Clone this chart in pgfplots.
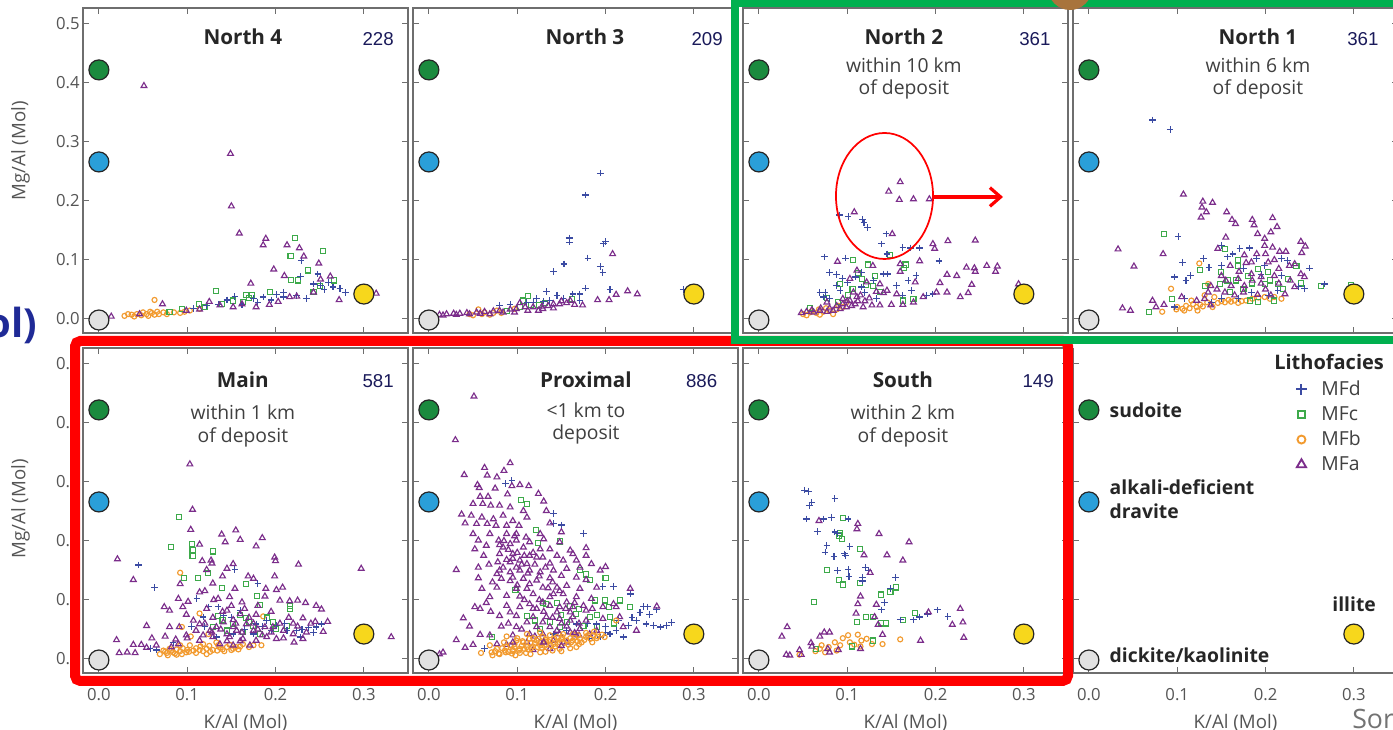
\documentclass[border=0pt]{standalone}
\usepackage{pgfplots}
\pgfplotsset{compat=1.18}
\usepackage{fontspec}
\setmainfont{Open Sans}
\newfontfamily\numfont{Liberation Sans}
\usetikzlibrary{arrows.meta}

\definecolor{mfd}{HTML}{3B4BA3}
\definecolor{mfc}{HTML}{3DAA4A}
\definecolor{mfb}{HTML}{F29A2E}
\definecolor{mfa}{HTML}{7B2D8B}
\definecolor{sud}{HTML}{1B8A3E}
\definecolor{drav}{HTML}{2A9FD9}
\definecolor{kao}{HTML}{E2E2E2}
\definecolor{ill}{HTML}{F7D71C}
\definecolor{framegray}{HTML}{6E6E6E}
\definecolor{tickgray}{HTML}{555555}
\definecolor{navy}{HTML}{1A1A5A}
\definecolor{frgreen}{HTML}{00B04F}
\definecolor{frred}{HTML}{FF0000}
\definecolor{olblue}{HTML}{1F2A96}
\definecolor{blob}{HTML}{A8743C}

\newcommand\tfont{\fontsize{15.5}{18}\selectfont\bfseries}
\newcommand\sfont{\fontsize{14.5}{18}\selectfont}
\newcommand\nfont{\numfont\fontsize{14}{16}\selectfont}
\newcommand\tkfont{\fontsize{12.5}{14}\selectfont}
\newcommand\lbfont{\fontsize{14}{16}\selectfont}

\pgfplotsset{
  panel/.style={scale only axis, width=243.75pt, height=243.75pt,
    xmin=-0.018, xmax=0.350, ymin=-0.024, ymax=0.527,
    xtick={0,0.1,0.2,0.3}, ytick={0,0.1,0.2,0.3,0.4,0.5},
    tick align=inside, major tick length=4.5pt,
    axis line style={draw=framegray, line width=0.9pt},
    every tick/.style={framegray, line width=0.8pt},
    xticklabels={}, yticklabels={}, clip=false,
    /pgf/number format/assume math mode=true,
    xticklabel style={font=\tkfont, text=tickgray, yshift=-8pt},
    yticklabel style={font=\tkfont, text=tickgray, xshift=1pt},
    xlabel style={font=\lbfont, text=tickgray, at={(rel axis cs:0.5,-0.152)}, anchor=center},
    ylabel style={font=\lbfont, text=tickgray, anchor=center},
  },
  MFd/.style={only marks, mark=+, mark size=2.5pt, draw=mfd, line width=0.85pt},
  MFc/.style={only marks, mark=square, mark size=1.9pt, draw=mfc, line width=0.8pt},
  MFb/.style={only marks, mark=o, mark size=1.9pt, draw=mfb, line width=0.85pt},
  MFa/.style={only marks, mark=triangle, mark size=2.5pt, draw=mfa, line width=0.85pt},
  EM/.style={only marks, mark=*, mark size=7.5pt, mark options={draw=black!85, line width=0.9pt, fill=#1}},
}

\newcommand\drawEM{%
  \addplot[EM=sud] coordinates {(0,0.422)};
  \addplot[EM=drav] coordinates {(0,0.266)};
  \addplot[EM=kao] coordinates {(0,-0.002)};
  \addplot[EM=ill] coordinates {(0.3,0.042)};
}

\begin{document}
\begin{tikzpicture}[x=0.75pt,y=0.75pt]
\useasboundingbox (0,0) rectangle (1393,730);
\fill[white] (0,0) rectangle (1393,730);

% ---------------- North 4 ----------------
\begin{axis}[panel, at={(62.25pt,297.75pt)}, yticklabels={0.0,0.1,0.2,0.3,0.4,0.5},
  ylabel={Mg/Al (Mol)}, ylabel style={at={(rel axis cs:-0.192,0.56)}}]
\addplot[MFb] coordinates {(0.063,0.032)(0.029,0.005)(0.037,0.007)(0.043,0.008)(0.048,0.006)(0.054,0.008)(0.060,0.010)(0.063,0.007)(0.068,0.008)(0.073,0.011)(0.077,0.008)(0.092,0.010)(0.097,0.012)(0.103,0.014)(0.050,0.011)(0.056,0.005)(0.033,0.008)(0.114,0.017)(0.040,0.004)(0.058,0.012)(0.066,0.012)(0.085,0.011)};
\addplot[MFc] coordinates {(0.222,0.137)(0.217,0.106)(0.254,0.115)(0.237,0.082)(0.218,0.066)(0.225,0.065)(0.133,0.047)(0.113,0.025)(0.094,0.017)(0.152,0.031)(0.167,0.040)(0.173,0.041)(0.194,0.045)(0.243,0.046)(0.266,0.065)(0.139,0.025)(0.163,0.028)(0.080,0.011)(0.170,0.035)(0.120,0.020)(0.250,0.055)};
\addplot[MFd] coordinates {(0.229,0.099)(0.228,0.072)(0.248,0.076)(0.243,0.059)(0.260,0.062)(0.273,0.051)(0.279,0.045)(0.251,0.056)(0.235,0.035)(0.224,0.040)(0.209,0.045)(0.201,0.041)(0.186,0.037)(0.175,0.034)(0.154,0.038)(0.145,0.032)(0.135,0.025)(0.122,0.023)(0.107,0.017)(0.162,0.024)(0.209,0.037)(0.265,0.054)(0.195,0.032)(0.180,0.028)(0.255,0.050)};
\addplot[MFa] coordinates {(0.051,0.395)(0.149,0.280)(0.150,0.191)(0.159,0.145)(0.189,0.136)(0.186,0.125)(0.213,0.125)(0.227,0.120)(0.232,0.106)(0.249,0.094)(0.198,0.084)(0.210,0.073)(0.172,0.060)(0.262,0.072)(0.251,0.067)(0.272,0.032)(0.314,0.043)(0.072,0.025)(0.014,0.004)(0.125,0.029)(0.193,0.024)(0.203,0.029)(0.046,0.008)(0.099,0.014)(0.114,0.016)(0.137,0.023)(0.152,0.020)(0.162,0.025)(0.178,0.020)(0.216,0.037)(0.224,0.038)(0.243,0.045)};
\drawEM
\node[font=\tfont, text=black!85, anchor=base] at (rel axis cs:0.492,0.889) {North 4};
\node[font=\nfont, text=navy, anchor=base] at (rel axis cs:0.908,0.886) {228};
\end{axis}

% ---------------- North 3 ----------------
\begin{axis}[panel, at={(309.75pt,297.75pt)}]
\addplot[MFb] coordinates {(0.056,0.016)(0.046,0.008)(0.063,0.011)(0.077,0.014)(0.082,0.010)(0.097,0.017)(0.050,0.006)(0.069,0.007)(0.060,0.008)(0.073,0.010)};
\addplot[MFc] coordinates {(0.112,0.038)(0.107,0.031)(0.103,0.020)(0.116,0.023)(0.131,0.027)(0.162,0.034)(0.088,0.014)(0.125,0.024)};
\addplot[MFd] coordinates {(0.194,0.247)(0.177,0.210)(0.159,0.137)(0.159,0.130)(0.200,0.131)(0.198,0.127)(0.180,0.103)(0.153,0.093)(0.141,0.080)(0.194,0.089)(0.197,0.079)(0.177,0.052)(0.205,0.050)(0.133,0.046)(0.145,0.040)(0.163,0.042)(0.171,0.042)(0.288,0.050)(0.171,0.031)(0.122,0.034)(0.080,0.023)(0.092,0.025)(0.111,0.028)(0.137,0.031)(0.152,0.034)(0.118,0.028)(0.130,0.030)};
\addplot[MFa] coordinates {(0.208,0.110)(0.225,0.047)(0.236,0.042)(0.212,0.041)(0.204,0.032)(0.191,0.032)(0.174,0.023)(0.165,0.024)(0.156,0.027)(0.012,0.007)(0.020,0.008)(0.028,0.009)(0.035,0.009)(0.043,0.010)(0.054,0.011)(0.063,0.012)(0.073,0.013)(0.080,0.014)(0.092,0.016)(0.099,0.017)(0.103,0.027)(0.109,0.020)(0.118,0.020)(0.128,0.021)(0.129,0.017)(0.141,0.018)(0.148,0.025)(0.141,0.025)(0.058,0.009)(0.069,0.008)(0.084,0.011)(0.097,0.011)(0.112,0.014)(0.124,0.014)(0.016,0.006)(0.031,0.007)(0.046,0.008)(0.135,0.022)(0.150,0.030)(0.160,0.031)};
\drawEM
\node[font=\tfont, text=black!85, anchor=base] at (rel axis cs:0.529,0.889) {North 3};
\node[font=\nfont, text=navy, anchor=base] at (rel axis cs:0.905,0.886) {209};
\end{axis}

% ---------------- North 2 ----------------
\begin{axis}[panel, at={(557.25pt,297.75pt)}]
\addplot[MFb] coordinates {(0.050,0.008)(0.058,0.011)(0.065,0.010)(0.073,0.012)(0.080,0.014)(0.088,0.016)(0.095,0.020)(0.099,0.028)(0.054,0.006)(0.069,0.007)(0.084,0.008)(0.060,0.013)(0.068,0.016)(0.076,0.018)(0.090,0.022)};
\addplot[MFc] coordinates {(0.148,0.108)(0.107,0.100)(0.124,0.092)(0.166,0.092)(0.164,0.086)(0.112,0.078)(0.131,0.072)(0.117,0.068)(0.092,0.059)(0.121,0.058)(0.129,0.055)(0.077,0.036)(0.090,0.028)(0.163,0.031)(0.175,0.034)(0.058,0.018)(0.106,0.050)(0.137,0.045)(0.101,0.040)};
\addplot[MFd] coordinates {(0.091,0.176)(0.101,0.174)(0.117,0.168)(0.119,0.163)(0.123,0.155)(0.144,0.144)(0.139,0.127)(0.163,0.121)(0.172,0.120)(0.182,0.120)(0.145,0.110)(0.074,0.105)(0.098,0.103)(0.204,0.098)(0.080,0.078)(0.088,0.075)(0.095,0.069)(0.100,0.062)(0.116,0.079)(0.130,0.065)(0.141,0.076)(0.146,0.076)(0.178,0.073)(0.169,0.065)(0.069,0.045)(0.075,0.045)(0.088,0.056)(0.092,0.048)(0.156,0.056)(0.173,0.048)(0.190,0.040)(0.197,0.042)(0.120,0.045)(0.133,0.034)(0.163,0.040)(0.073,0.037)(0.109,0.071)(0.116,0.054)(0.080,0.034)};
\addplot[MFa] coordinates {(0.160,0.232)(0.147,0.216)(0.159,0.202)(0.175,0.203)(0.193,0.203)(0.108,0.181)(0.151,0.144)(0.197,0.127)(0.199,0.119)(0.214,0.132)(0.245,0.133)(0.182,0.098)(0.160,0.093)(0.089,0.097)(0.111,0.082)(0.235,0.087)(0.244,0.086)(0.245,0.080)(0.258,0.090)(0.270,0.089)(0.268,0.080)(0.213,0.075)(0.224,0.073)(0.205,0.061)(0.241,0.058)(0.177,0.062)(0.160,0.080)(0.213,0.045)(0.237,0.044)(0.228,0.037)(0.294,0.059)(0.201,0.045)(0.141,0.044)(0.122,0.062)(0.129,0.090)(0.103,0.068)(0.163,0.024)(0.150,0.024)(0.137,0.023)(0.128,0.023)(0.118,0.020)(0.109,0.025)(0.099,0.020)(0.092,0.017)(0.084,0.014)(0.077,0.012)(0.069,0.014)(0.062,0.011)(0.054,0.012)(0.048,0.010)(0.103,0.031)(0.111,0.037)(0.133,0.046)(0.145,0.048)(0.107,0.045)(0.095,0.034)(0.175,0.028)(0.186,0.037)(0.137,0.059)(0.156,0.042)(0.077,0.028)(0.080,0.018)(0.088,0.022)(0.095,0.025)(0.100,0.030)(0.105,0.022)(0.112,0.030)(0.120,0.030)(0.125,0.035)(0.060,0.015)(0.070,0.018)(0.115,0.040)};
\drawEM
\node[font=\tfont, text=black!85, anchor=base] at (rel axis cs:0.495,0.889) {North 2};
\node[font=\sfont, text=black!75, anchor=base] at (rel axis cs:0.495,0.800) {within 10 km};
\node[font=\sfont, text=black!75, anchor=base] at (rel axis cs:0.495,0.733) {of deposit};
\node[font=\nfont, text=navy, anchor=base] at (rel axis cs:0.898,0.886) {361};
\end{axis}

% ---------------- North 1 ----------------
\begin{axis}[panel, at={(804.75pt,297.75pt)}]
\addplot[MFb] coordinates {(0.125,0.094)(0.093,0.051)(0.083,0.012)(0.135,0.059)(0.099,0.016)(0.106,0.017)(0.114,0.018)(0.122,0.020)(0.129,0.021)(0.138,0.025)(0.146,0.027)(0.154,0.028)(0.161,0.029)(0.169,0.027)(0.178,0.031)(0.199,0.037)(0.210,0.037)(0.218,0.034)(0.131,0.040)(0.142,0.037)(0.116,0.031)(0.108,0.014)(0.123,0.014)(0.110,0.022)(0.118,0.025)(0.126,0.024)(0.134,0.028)(0.150,0.030)(0.158,0.032)(0.165,0.031)(0.173,0.030)(0.185,0.034)(0.192,0.036)(0.205,0.034)(0.140,0.020)(0.100,0.020)};
\addplot[MFc] coordinates {(0.085,0.144)(0.169,0.099)(0.169,0.090)(0.126,0.083)(0.150,0.079)(0.154,0.119)(0.191,0.085)(0.203,0.080)(0.235,0.090)(0.225,0.068)(0.214,0.059)(0.263,0.055)(0.297,0.058)(0.199,0.059)(0.167,0.065)(0.148,0.059)(0.132,0.055)(0.094,0.034)(0.068,0.012)(0.182,0.031)(0.191,0.028)(0.210,0.031)(0.180,0.073)(0.157,0.065)(0.175,0.050)(0.185,0.060)(0.205,0.065)(0.220,0.050)(0.240,0.060)(0.160,0.045)};
\addplot[MFd] coordinates {(0.072,0.337)(0.092,0.321)(0.101,0.140)(0.106,0.096)(0.097,0.071)(0.110,0.065)(0.115,0.073)(0.130,0.102)(0.136,0.087)(0.150,0.090)(0.157,0.105)(0.150,0.124)(0.171,0.119)(0.182,0.120)(0.190,0.102)(0.199,0.090)(0.218,0.102)(0.225,0.099)(0.250,0.086)(0.267,0.059)(0.244,0.051)(0.237,0.055)(0.214,0.048)(0.203,0.040)(0.184,0.045)(0.169,0.034)(0.150,0.034)(0.139,0.028)(0.108,0.035)(0.097,0.020)(0.218,0.073)(0.163,0.110)(0.175,0.085)(0.195,0.075)};
\addplot[MFa] coordinates {(0.107,0.211)(0.129,0.199)(0.140,0.197)(0.128,0.189)(0.133,0.181)(0.127,0.172)(0.156,0.181)(0.162,0.168)(0.166,0.161)(0.185,0.168)(0.187,0.159)(0.208,0.171)(0.213,0.156)(0.206,0.147)(0.191,0.144)(0.199,0.136)(0.155,0.138)(0.240,0.131)(0.245,0.123)(0.199,0.124)(0.208,0.121)(0.216,0.114)(0.223,0.114)(0.241,0.112)(0.033,0.118)(0.084,0.110)(0.051,0.089)(0.146,0.119)(0.176,0.108)(0.184,0.096)(0.203,0.096)(0.227,0.090)(0.233,0.093)(0.240,0.076)(0.244,0.071)(0.233,0.054)(0.210,0.073)(0.195,0.071)(0.176,0.056)(0.169,0.068)(0.161,0.056)(0.154,0.045)(0.138,0.056)(0.135,0.045)(0.131,0.034)(0.122,0.031)(0.105,0.037)(0.072,0.031)(0.085,0.024)(0.038,0.018)(0.047,0.014)(0.076,0.020)(0.138,0.023)(0.191,0.041)(0.206,0.040)(0.222,0.042)(0.184,0.076)(0.150,0.073)(0.160,0.090)(0.170,0.080)(0.178,0.095)(0.190,0.110)(0.200,0.110)(0.210,0.100)(0.215,0.085)(0.195,0.060)(0.185,0.065)(0.175,0.045)(0.165,0.040)(0.155,0.065)(0.145,0.050)(0.200,0.050)(0.215,0.060)(0.228,0.065)};
\drawEM
\node[font=\tfont, text=black!85, anchor=base] at (rel axis cs:0.569,0.889) {North 1};
\node[font=\sfont, text=black!75, anchor=base] at (rel axis cs:0.569,0.800) {within 6 km};
\node[font=\sfont, text=black!75, anchor=base] at (rel axis cs:0.569,0.733) {of deposit};
\node[font=\nfont, text=navy, anchor=base] at (rel axis cs:0.892,0.886) {361};
\end{axis}

% ---------------- Main ----------------
\begin{axis}[panel, at={(62.25pt,42.75pt)}, yticklabels={0.0,0.1,0.2,0.3,0.4,0.5},
  xticklabels={0.0,0.1,0.2,0.3}, xlabel={K/Al (Mol)},
  ylabel={Mg/Al (Mol)}, ylabel style={at={(rel axis cs:-0.192,0.505)}}]
\addplot[MFb] coordinates {(0.092,0.146)(0.114,0.077)(0.094,0.054)(0.104,0.038)(0.186,0.072)(0.184,0.023)(0.124,0.042)(0.069,0.008)(0.077,0.010)(0.084,0.011)(0.092,0.013)(0.099,0.011)(0.107,0.014)(0.114,0.015)(0.122,0.017)(0.129,0.015)(0.137,0.019)(0.145,0.020)(0.152,0.017)(0.160,0.021)(0.092,0.023)(0.080,0.017)(0.103,0.023)(0.118,0.025)(0.133,0.028)(0.073,0.014)(0.088,0.007)(0.122,0.008)(0.175,0.023)(0.075,0.012)(0.082,0.014)(0.088,0.016)(0.095,0.018)(0.100,0.015)(0.110,0.018)(0.115,0.021)(0.125,0.022)(0.135,0.023)(0.140,0.016)(0.148,0.024)(0.155,0.020)(0.163,0.025)(0.170,0.020)(0.078,0.006)(0.086,0.009)(0.094,0.008)(0.102,0.012)(0.110,0.010)(0.118,0.013)(0.126,0.012)(0.134,0.014)(0.142,0.013)(0.150,0.015)(0.158,0.016)};
\addplot[MFc] coordinates {(0.091,0.241)(0.082,0.190)(0.105,0.195)(0.106,0.184)(0.106,0.174)(0.129,0.182)(0.112,0.137)(0.124,0.146)(0.096,0.137)(0.139,0.120)(0.167,0.127)(0.179,0.106)(0.182,0.092)(0.135,0.073)(0.167,0.069)(0.216,0.090)(0.216,0.084)(0.197,0.063)(0.152,0.059)(0.175,0.056)(0.213,0.056)(0.145,0.048)(0.163,0.045)(0.182,0.042)(0.129,0.054)(0.160,0.075)(0.170,0.062)(0.190,0.070)(0.200,0.050)(0.140,0.065)};
\addplot[MFd] coordinates {(0.045,0.159)(0.063,0.121)(0.154,0.151)(0.180,0.128)(0.111,0.102)(0.124,0.088)(0.135,0.088)(0.160,0.082)(0.118,0.071)(0.105,0.055)(0.141,0.073)(0.178,0.059)(0.190,0.065)(0.201,0.056)(0.213,0.048)(0.224,0.048)(0.237,0.053)(0.246,0.054)(0.252,0.059)(0.243,0.045)(0.228,0.037)(0.152,0.042)(0.175,0.042)(0.065,0.015)(0.058,0.017)(0.084,0.028)(0.133,0.037)(0.150,0.070)(0.165,0.050)(0.185,0.055)(0.195,0.048)(0.210,0.060)(0.230,0.050)(0.120,0.055)};
\addplot[MFa] coordinates {(0.103,0.330)(0.106,0.253)(0.104,0.219)(0.139,0.211)(0.155,0.218)(0.143,0.198)(0.160,0.202)(0.185,0.205)(0.114,0.194)(0.178,0.191)(0.021,0.169)(0.199,0.172)(0.200,0.166)(0.226,0.160)(0.117,0.166)(0.127,0.167)(0.128,0.162)(0.152,0.161)(0.145,0.153)(0.122,0.151)(0.297,0.153)(0.039,0.134)(0.092,0.127)(0.169,0.140)(0.175,0.136)(0.199,0.140)(0.201,0.117)(0.208,0.121)(0.189,0.119)(0.154,0.119)(0.129,0.128)(0.114,0.113)(0.090,0.102)(0.101,0.097)(0.135,0.102)(0.148,0.105)(0.162,0.096)(0.188,0.106)(0.205,0.099)(0.216,0.098)(0.225,0.099)(0.234,0.095)(0.246,0.090)(0.252,0.084)(0.259,0.063)(0.245,0.063)(0.231,0.069)(0.254,0.046)(0.220,0.060)(0.074,0.088)(0.080,0.082)(0.095,0.088)(0.099,0.075)(0.122,0.085)(0.145,0.082)(0.160,0.076)(0.178,0.075)(0.054,0.056)(0.080,0.054)(0.091,0.054)(0.114,0.059)(0.133,0.054)(0.152,0.054)(0.175,0.048)(0.197,0.054)(0.209,0.048)(0.220,0.042)(0.231,0.034)(0.221,0.028)(0.020,0.032)(0.039,0.024)(0.048,0.024)(0.060,0.035)(0.075,0.038)(0.087,0.033)(0.023,0.010)(0.032,0.011)(0.041,0.010)(0.054,0.019)(0.065,0.023)(0.331,0.037)(0.114,0.031)(0.129,0.037)(0.148,0.037)(0.163,0.034)(0.178,0.031)(0.190,0.037)(0.201,0.034)(0.137,0.025)(0.152,0.023)(0.171,0.023)(0.129,0.070)(0.141,0.062)(0.152,0.066)(0.167,0.059)(0.107,0.065)(0.156,0.048)(0.126,0.048)(0.099,0.040)(0.145,0.042)(0.188,0.054)(0.209,0.035)(0.120,0.060)(0.128,0.045)(0.138,0.050)(0.145,0.030)(0.155,0.060)(0.162,0.045)(0.170,0.070)(0.180,0.050)(0.185,0.040)(0.195,0.045)(0.205,0.060)(0.215,0.070)(0.225,0.055)(0.235,0.045)(0.240,0.060)(0.110,0.048)(0.118,0.040)(0.140,0.080)(0.150,0.090)(0.165,0.085)(0.180,0.090)(0.195,0.080)(0.130,0.100)(0.120,0.115)(0.140,0.140)(0.100,0.035)(0.090,0.025)(0.082,0.020)(0.160,0.030)(0.175,0.060)};
\drawEM
\node[font=\tfont, text=black!85, anchor=base] at (rel axis cs:0.492,0.877) {Main};
\node[font=\sfont, text=black!75, anchor=base] at (rel axis cs:0.492,0.780) {within 1 km};
\node[font=\sfont, text=black!75, anchor=base] at (rel axis cs:0.492,0.710) {of deposit};
\node[font=\nfont, text=navy, anchor=base] at (rel axis cs:0.908,0.877) {581};
\end{axis}

% ---------------- Proximal ----------------
\begin{axis}[panel, at={(309.75pt,42.75pt)}, xticklabels={0.0,0.1,0.2,0.3}, xlabel={K/Al (Mol)}]
\addplot[MFc] coordinates {(0.104,0.269)(0.111,0.263)(0.121,0.219)(0.124,0.196)(0.148,0.199)(0.171,0.151)(0.178,0.143)(0.182,0.134)(0.200,0.137)(0.098,0.116)(0.129,0.095)(0.111,0.072)(0.133,0.093)(0.188,0.099)(0.199,0.099)(0.204,0.088)(0.228,0.088)(0.216,0.099)(0.167,0.076)(0.182,0.071)(0.205,0.071)(0.156,0.062)(0.175,0.056)(0.190,0.054)(0.071,0.037)(0.137,0.062)(0.148,0.054)(0.126,0.051)(0.160,0.090)(0.170,0.085)(0.150,0.075)(0.190,0.075)(0.210,0.060)(0.145,0.095)(0.120,0.065)};
\addplot[MFd] coordinates {(0.087,0.297)(0.094,0.302)(0.141,0.246)(0.141,0.229)(0.150,0.227)(0.175,0.213)(0.197,0.123)(0.209,0.123)(0.228,0.110)(0.243,0.089)(0.248,0.088)(0.258,0.083)(0.239,0.079)(0.235,0.065)(0.246,0.059)(0.254,0.056)(0.269,0.056)(0.262,0.054)(0.226,0.056)(0.212,0.048)(0.205,0.042)(0.194,0.037)(0.182,0.034)(0.063,0.017)(0.167,0.059)(0.156,0.048)(0.220,0.037)(0.190,0.059)(0.141,0.042)(0.180,0.060)(0.200,0.055)(0.215,0.065)(0.230,0.070)(0.250,0.075)(0.275,0.062)(0.200,0.045)};
\addplot[MFa] coordinates {(0.051,0.445)(0.030,0.371)(0.092,0.332)(0.063,0.324)(0.085,0.319)(0.040,0.312)(0.066,0.311)(0.077,0.308)(0.055,0.295)(0.057,0.290)(0.075,0.289)(0.094,0.293)(0.103,0.295)(0.113,0.293)(0.089,0.279)(0.058,0.275)(0.067,0.275)(0.124,0.280)(0.130,0.267)(0.050,0.263)(0.061,0.263)(0.070,0.260)(0.080,0.260)(0.092,0.257)(0.107,0.251)(0.133,0.251)(0.037,0.245)(0.048,0.243)(0.060,0.240)(0.073,0.237)(0.084,0.243)(0.095,0.234)(0.111,0.240)(0.041,0.230)(0.054,0.229)(0.066,0.229)(0.076,0.226)(0.088,0.226)(0.102,0.226)(0.137,0.230)(0.050,0.212)(0.069,0.212)(0.088,0.212)(0.099,0.212)(0.110,0.206)(0.126,0.212)(0.130,0.203)(0.150,0.215)(0.056,0.201)(0.079,0.201)(0.092,0.195)(0.107,0.189)(0.052,0.186)(0.065,0.192)(0.126,0.186)(0.137,0.186)(0.148,0.198)(0.160,0.184)(0.178,0.188)(0.080,0.178)(0.095,0.178)(0.114,0.175)(0.129,0.172)(0.145,0.175)(0.163,0.178)(0.167,0.167)(0.178,0.175)(0.078,0.164)(0.092,0.164)(0.103,0.167)(0.122,0.172)(0.137,0.162)(0.152,0.167)(0.184,0.161)(0.200,0.156)(0.031,0.151)(0.056,0.155)(0.080,0.150)(0.092,0.147)(0.103,0.150)(0.114,0.150)(0.126,0.147)(0.141,0.150)(0.156,0.153)(0.171,0.155)(0.194,0.150)(0.056,0.137)(0.082,0.136)(0.092,0.132)(0.107,0.136)(0.122,0.133)(0.137,0.137)(0.150,0.141)(0.167,0.138)(0.178,0.134)(0.060,0.119)(0.077,0.121)(0.099,0.119)(0.111,0.119)(0.129,0.121)(0.145,0.121)(0.156,0.124)(0.171,0.119)(0.190,0.121)(0.069,0.105)(0.088,0.107)(0.103,0.106)(0.118,0.110)(0.137,0.105)(0.152,0.110)(0.167,0.105)(0.184,0.102)(0.209,0.093)(0.228,0.119)(0.052,0.088)(0.058,0.085)(0.088,0.090)(0.103,0.088)(0.122,0.085)(0.137,0.090)(0.148,0.088)(0.163,0.088)(0.178,0.082)(0.197,0.088)(0.212,0.088)(0.258,0.089)(0.039,0.069)(0.080,0.073)(0.099,0.073)(0.118,0.071)(0.133,0.071)(0.148,0.068)(0.163,0.071)(0.178,0.065)(0.197,0.068)(0.216,0.071)(0.046,0.055)(0.082,0.055)(0.099,0.054)(0.122,0.054)(0.137,0.054)(0.156,0.055)(0.171,0.051)(0.190,0.048)(0.220,0.054)(0.235,0.048)(0.058,0.041)(0.069,0.040)(0.031,0.032)(0.050,0.024)(0.095,0.040)(0.114,0.042)(0.129,0.042)(0.148,0.042)(0.167,0.040)(0.182,0.042)(0.041,0.019)(0.016,0.011)(0.012,0.008)(0.088,0.024)(0.111,0.028)(0.126,0.028)(0.141,0.031)(0.156,0.028)(0.118,0.015)(0.137,0.017)(0.077,0.025)(0.084,0.189)(0.099,0.201)(0.114,0.198)(0.084,0.155)(0.099,0.155)(0.111,0.161)(0.077,0.144)(0.095,0.138)(0.114,0.127)(0.141,0.110)(0.129,0.096)(0.145,0.079)(0.114,0.093)(0.092,0.079)(0.156,0.096)(0.129,0.062)(0.111,0.062)(0.145,0.048)(0.160,0.079)(0.085,0.200)(0.090,0.185)(0.095,0.170)(0.100,0.180)(0.105,0.160)(0.088,0.168)(0.080,0.193)(0.097,0.208)(0.108,0.175)(0.118,0.180)(0.112,0.145)(0.120,0.160)(0.125,0.140)(0.132,0.155)(0.140,0.130)(0.148,0.115)(0.135,0.120)(0.125,0.100)(0.118,0.085)(0.130,0.080)(0.140,0.070)(0.150,0.060)(0.160,0.065)(0.170,0.060)(0.155,0.085)(0.165,0.095)(0.175,0.090)(0.185,0.085)(0.160,0.045)(0.170,0.040)(0.120,0.038)(0.105,0.050)(0.090,0.060)(0.070,0.080)(0.065,0.095)(0.072,0.130)(0.068,0.160)(0.062,0.175)(0.100,0.125)(0.108,0.100)};
\addplot[MFb] coordinates {(0.059,0.010)(0.071,0.011)(0.077,0.017)(0.088,0.038)(0.086,0.014)(0.095,0.015)(0.103,0.017)(0.111,0.020)(0.118,0.021)(0.126,0.023)(0.133,0.024)(0.141,0.025)(0.148,0.028)(0.156,0.031)(0.163,0.031)(0.171,0.034)(0.178,0.037)(0.186,0.040)(0.199,0.037)(0.212,0.065)(0.092,0.023)(0.107,0.028)(0.122,0.031)(0.129,0.037)(0.137,0.040)(0.145,0.037)(0.152,0.042)(0.163,0.042)(0.099,0.031)(0.114,0.034)(0.080,0.008)(0.103,0.010)(0.126,0.011)(0.148,0.017)(0.167,0.020)(0.069,0.023)(0.111,0.042)(0.126,0.045)(0.075,0.013)(0.083,0.018)(0.090,0.012)(0.097,0.020)(0.105,0.022)(0.112,0.016)(0.120,0.026)(0.128,0.019)(0.135,0.030)(0.143,0.021)(0.150,0.033)(0.158,0.024)(0.165,0.036)(0.173,0.028)(0.180,0.040)(0.190,0.035)(0.118,0.035)(0.132,0.033)(0.100,0.035)(0.085,0.028)(0.094,0.009)(0.110,0.010)(0.140,0.014)(0.160,0.018)(0.072,0.006)(0.079,0.009)(0.087,0.011)(0.095,0.013)(0.102,0.014)(0.108,0.017)(0.116,0.018)(0.123,0.020)(0.131,0.022)(0.138,0.023)(0.146,0.025)(0.153,0.027)(0.161,0.028)(0.168,0.030)(0.176,0.032)(0.183,0.034)(0.191,0.038)(0.196,0.041)(0.088,0.020)(0.097,0.025)(0.106,0.030)(0.115,0.027)(0.124,0.034)(0.133,0.029)(0.142,0.034)(0.151,0.037)(0.160,0.035)(0.169,0.040)(0.178,0.044)(0.187,0.046)(0.098,0.006)(0.115,0.008)(0.132,0.012)(0.150,0.013)(0.170,0.025)(0.185,0.028)};
\addplot[MFa] coordinates {(0.095,0.028)(0.130,0.028)(0.165,0.044)(0.150,0.022)};
\drawEM
\node[font=\tfont, text=black!85, anchor=base] at (rel axis cs:0.532,0.877) {Proximal};
\node[font=\sfont, text=black!75, anchor=base] at (rel axis cs:0.532,0.786) {<1 km to};
\node[font=\sfont, text=black!75, anchor=base] at (rel axis cs:0.532,0.718) {deposit};
\node[font=\nfont, text=navy, anchor=base] at (rel axis cs:0.888,0.877) {886};
\end{axis}

% ---------------- South ----------------
\begin{axis}[panel, at={(557.25pt,42.75pt)}, xticklabels={0.0,0.1,0.2,0.3}, xlabel={K/Al (Mol)}]
\addplot[MFb] coordinates {(0.046,0.007)(0.064,0.013)(0.071,0.023)(0.079,0.020)(0.086,0.028)(0.092,0.023)(0.095,0.035)(0.101,0.040)(0.112,0.041)(0.116,0.031)(0.122,0.034)(0.128,0.025)(0.140,0.025)(0.160,0.033)(0.108,0.024)(0.103,0.028)(0.088,0.014)(0.075,0.011)(0.115,0.021)(0.069,0.017)};
\addplot[MFc] coordinates {(0.095,0.239)(0.092,0.213)(0.091,0.209)(0.094,0.203)(0.114,0.186)(0.077,0.150)(0.091,0.134)(0.095,0.126)(0.114,0.128)(0.062,0.096)(0.155,0.121)(0.149,0.113)(0.138,0.109)(0.121,0.071)(0.129,0.071)(0.111,0.063)(0.138,0.060)(0.144,0.060)(0.163,0.066)(0.177,0.077)(0.129,0.031)(0.105,0.021)(0.065,0.017)};
\addplot[MFd] coordinates {(0.052,0.286)(0.056,0.284)(0.060,0.265)(0.057,0.260)(0.086,0.272)(0.054,0.237)(0.073,0.237)(0.082,0.240)(0.101,0.237)(0.066,0.216)(0.086,0.215)(0.089,0.212)(0.103,0.191)(0.077,0.192)(0.075,0.181)(0.085,0.173)(0.097,0.178)(0.098,0.175)(0.089,0.150)(0.101,0.151)(0.102,0.140)(0.121,0.155)(0.124,0.150)(0.117,0.138)(0.117,0.132)(0.155,0.138)(0.149,0.119)(0.142,0.096)(0.139,0.083)(0.160,0.066)(0.175,0.066)(0.182,0.071)(0.191,0.076)(0.202,0.083)(0.214,0.072)};
\addplot[MFa] coordinates {(0.068,0.234)(0.112,0.229)(0.111,0.220)(0.136,0.212)(0.170,0.198)(0.119,0.176)(0.145,0.176)(0.163,0.167)(0.126,0.146)(0.115,0.106)(0.112,0.093)(0.110,0.077)(0.133,0.092)(0.135,0.058)(0.131,0.071)(0.192,0.079)(0.228,0.085)(0.231,0.062)(0.219,0.058)(0.232,0.036)(0.183,0.031)(0.140,0.041)(0.032,0.054)(0.026,0.038)(0.031,0.007)(0.035,0.006)(0.046,0.015)(0.048,0.007)(0.059,0.027)(0.060,0.021)(0.069,0.038)(0.074,0.045)(0.080,0.045)(0.078,0.017)(0.080,0.011)(0.090,0.015)(0.115,0.017)};
\drawEM
\node[font=\tfont, text=black!85, anchor=base] at (rel axis cs:0.492,0.877) {South};
\node[font=\sfont, text=black!75, anchor=base] at (rel axis cs:0.492,0.780) {within 2 km};
\node[font=\sfont, text=black!75, anchor=base] at (rel axis cs:0.492,0.710) {of deposit};
\node[font=\nfont, text=navy, anchor=base] at (rel axis cs:0.908,0.877) {149};
\end{axis}

% ---------------- Legend panel ----------------
\begin{axis}[panel, at={(804.75pt,42.75pt)}, axis lines*=left,
  xticklabels={0.0,0.1,0.2,0.3}, xlabel={K/Al (Mol)},
  legend style={at={(0.658,0.912)}, anchor=north west, draw=none, fill=none,
    font=\fontsize{14.5}{17}\selectfont, text=black!75, row sep=4.2pt,
    nodes={inner sep=1.2pt}},
  legend image code/.code={\path (-7pt,0pt) (13pt,0pt); \draw[#1] plot coordinates {(0pt,0pt)};},
  legend cell align=left]
\addlegendimage{MFd, mark size=4pt, line width=1.5pt}\addlegendentry{MFd}
\addlegendimage{MFc, mark size=2.6pt, line width=1.4pt}\addlegendentry{MFc}
\addlegendimage{MFb, mark size=3pt, line width=1.4pt}\addlegendentry{MFb}
\addlegendimage{MFa, mark size=4pt, line width=1.4pt}\addlegendentry{MFa}
\drawEM
\node[font=\fontsize{15}{18}\selectfont\bfseries, text=black!85] at (rel axis cs:0.788,0.957) {Lithofacies};
\node[font=\fontsize{14.5}{18}\selectfont\bfseries, text=black!85, anchor=west] at (rel axis cs:0.0985,0.809) {sudoite};
\node[font=\fontsize{14.5}{17.5}\selectfont\bfseries, text=black!85, anchor=west, align=left] at (rel axis cs:0.0985,0.535) {alkali-deficient\\dravite};
\node[font=\fontsize{14.5}{18}\selectfont\bfseries, text=black!85, anchor=west] at (rel axis cs:0.0985,0.055) {dickite/kaolinite};
\node[font=\fontsize{14.5}{18}\selectfont\bfseries, text=black!85] at (rel axis cs:0.865,0.212) {illite};
\end{axis}

% ---------------- overlays ----------------
\draw[frred, line width=7.5pt, rounded corners=4pt] (75,389) rectangle (1068,49);
\draw[frgreen, line width=5.5pt] (735,726.5) rectangle (1405,390);
\draw[frred, line width=1.3pt] (884.5,534) ellipse [x radius=36.4pt, y radius=47.25pt];
\draw[frred, line width=2.4pt, -{Straight Barb[length=8pt,width=14pt,line width=2.4pt]}] (933,533) -- (1003,533);
\fill[blob] (1070,742) circle (16.5pt);
\node[anchor=base west, font=\fontsize{30}{30}\selectfont\bfseries, text=olblue, inner sep=0] at (-14,392) {ol)};
\node[anchor=north west, font=\fontsize{20}{20}\selectfont, text=black!55, inner sep=0] at (1352,21) {Sor};
\end{tikzpicture}
\end{document}
